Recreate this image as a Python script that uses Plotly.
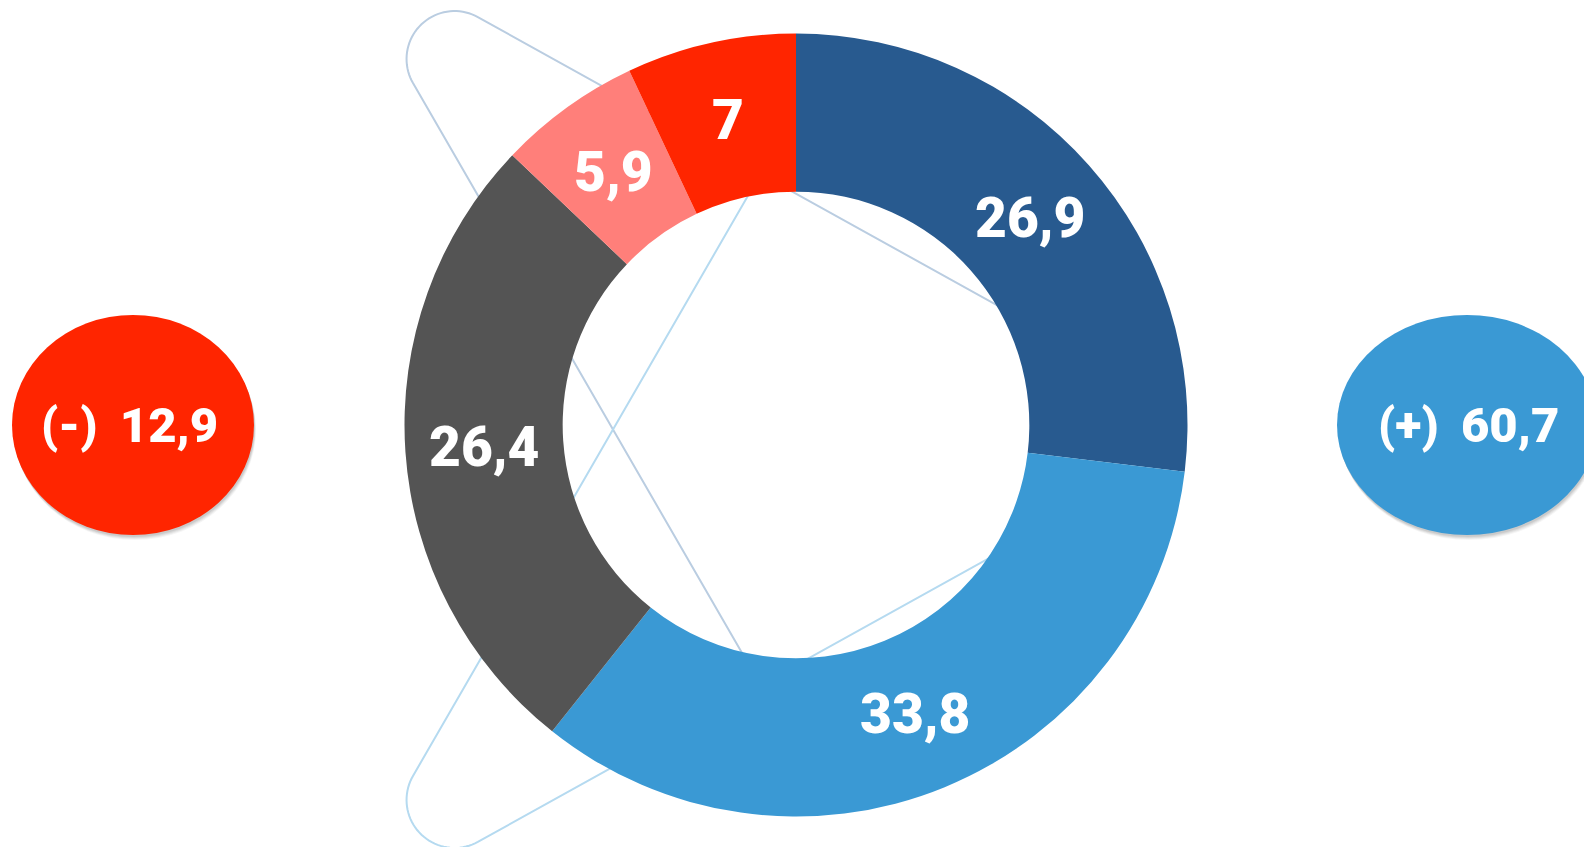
import numpy as np
import plotly.graph_objects as go

# ---------------- data ----------------
categories = ["Muy positivo", "Positivo", "Neutral", "Negativo", "Muy negativo"]
values = [26.9, 33.8, 26.4, 5.9, 7]
colors = ["#285A8F", "#3A99D4", "#545454", "#FF7F7A", "#FF2500"]

summary_signs = ["(-)", "(+)"]
summary_values = [12.9, 60.7]
summary_colors = ["#FF2500", "#3A99D4"]

def fmt(v):
    return f"{v:g}".replace(".", ",")

W, H = 1584, 847
FONT = "Roboto"
WEIGHT = 900

fig = go.Figure()

# hidden pixel-space axes for decorations
fig.update_xaxes(range=[0, W], visible=False, fixedrange=True)
fig.update_yaxes(range=[H, 0], visible=False, fixedrange=True)

# ---------------- background rounded outline ----------------
yc = 429.5
def unit(v):
    v = np.asarray(v, float)
    return v / np.linalg.norm(v)

def intersect(p, d, q, e):
    p, d, q, e = map(lambda a: np.asarray(a, float), (p, d, q, e))
    M = np.array([d, -e]).T
    t = np.linalg.solve(M, q - p)
    return p + t[0] * d

def corner_path(A, u, v, r, start_pt, end_pt, n=40):
    u, v = unit(u), unit(v)
    theta = np.arccos(np.clip(np.dot(u, v), -1, 1)) / 2
    t = r / np.tan(theta)
    T_u = A + t * u
    T_v = A + t * v
    C = A + (r / np.sin(theta)) * unit(u + v)
    a1 = np.arctan2(*(T_u - C)[::-1])
    a2 = np.arctan2(*(T_v - C)[::-1])
    d = (a2 - a1 + np.pi) % (2 * np.pi) - np.pi
    angs = a1 + np.linspace(0, 1, n) * d
    pts = [start_pt, T_u] + [C + r * np.array([np.cos(a), np.sin(a)]) for a in angs] + [T_v, end_pt]
    return "M " + " L ".join(f"{p[0]:.2f},{p[1]:.2f}" for p in pts)

s1 = 0.555
r_corner = 48
d1 = unit([1, s1]); d2 = unit([0.5, np.sqrt(3) / 2])
P1 = np.array([793, yc - 237.5]); P2 = np.array([613, yc])
A_top = intersect(P1, d1, P2, d2)
top_start = P2 + d2 * ((730 - yc) / d2[1])
top_end = P1 + d1 * ((1100 - 793) / d1[0])
path_top = corner_path(A_top, d2, d1, r_corner, top_start, top_end)
d4 = unit([1, -s1]); d3 = unit([0.5, -np.sqrt(3) / 2])
P4 = np.array([793, yc + 237.5])
A_bot = intersect(P4, d4, P2, d3)
bot_start = P2 + d3 * ((130 - yc) / d3[1])
bot_end = P4 + d4 * ((1100 - 793) / d4[0])
path_bot = corner_path(A_bot, d3, d4, r_corner, bot_start, bot_end)

shapes = [
    dict(type="path", path=path_top, xref="x", yref="y", layer="below",
         line=dict(color="#BACDE1", width=2)),
    dict(type="path", path=path_bot, xref="x", yref="y", layer="below",
         line=dict(color="#B5DAF0", width=2)),
]

# ---------------- summary ellipses ----------------
ell_cx = [133, 1467]
ell_rx = [121, 130]
ell_cy, ell_ry = 425, 110
txt_cx = [129, 1468]
for cx, rx, col in zip(ell_cx, ell_rx, summary_colors):
    for off, op in [(5, 0.04), (4, 0.05), (3, 0.06), (2, 0.07)]:
        shapes.append(dict(type="circle", xref="x", yref="y", layer="below",
                           x0=cx - rx + off * 0.4, x1=cx + rx + off * 0.4,
                           y0=ell_cy - ell_ry + off, y1=ell_cy + ell_ry + off,
                           fillcolor=f"rgba(0,0,0,{op})", line=dict(width=0)))
    shapes.append(dict(type="circle", xref="x", yref="y", layer="below",
                       x0=cx - rx, x1=cx + rx, y0=ell_cy - ell_ry, y1=ell_cy + ell_ry,
                       fillcolor=col, line=dict(width=0)))

annotations = []
for tx, sgn, val in zip(txt_cx, summary_signs, summary_values):
    annotations.append(dict(x=tx, y=ell_cy, xref="x", yref="y", showarrow=False,
                            text=f"{sgn}\u2009 {fmt(val)}",
                            font=dict(family=FONT, size=49, color="white", weight=WEIGHT),
                            xanchor="center", yanchor="middle"))

# invisible scatter to establish the cartesian subplot
fig.add_trace(go.Scatter(x=[0, W], y=[0, H], mode="markers",
                         marker=dict(opacity=0), hoverinfo="skip", showlegend=False))

# ---------------- donut ----------------
cx_pie, cy_pie, R = 796, 425, 391.5
HOLE = 0.596
fig.add_trace(go.Pie(
    labels=categories, values=values, sort=False, direction="clockwise", rotation=0,
    hole=HOLE,
    marker=dict(colors=colors, line=dict(width=0)),
    textinfo="none", textposition="none",
    domain=dict(x=[(cx_pie - R) / W, (cx_pie + R) / W],
                y=[1 - (cy_pie + R) / H, 1 - (cy_pie - R) / H]),
    hoverinfo="skip", showlegend=False,
))

# slice labels placed at the middle of each ring segment (derived from values)
total = sum(values)
cum = np.cumsum([0] + values[:-1])
r_mid = R * (1 + HOLE) / 2
for v, c0 in zip(values, cum):
    ang = 2 * np.pi * (c0 + v / 2) / total
    annotations.append(dict(x=cx_pie + r_mid * np.sin(ang), y=cy_pie - r_mid * np.cos(ang),
                            xref="x", yref="y", showarrow=False, text=fmt(v),
                            font=dict(family=FONT, size=55, color="white", weight=WEIGHT),
                            xanchor="center", yanchor="middle"))

fig.update_layout(
    width=W, height=H, margin=dict(l=0, r=0, t=0, b=0),
    paper_bgcolor="white", plot_bgcolor="rgba(0,0,0,0)",
    shapes=shapes, annotations=annotations, showlegend=False,
)

fig.write_html("out.html", config={"displayModeBar": False},
               post_script="document.body.style.margin='0';document.body.style.overflow='hidden';")
